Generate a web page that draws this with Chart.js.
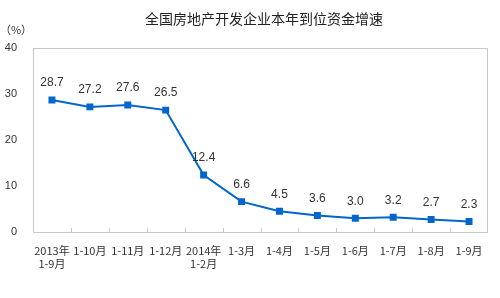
<!DOCTYPE html>
<html>
<head>
<meta charset="utf-8">
<script src="https://cdn.jsdelivr.net/npm/chart.js@4"></script>
<style>
  html, body { margin: 0; padding: 0; background: #fff; }
  #wrap { width: 500px; height: 298px; position: relative; }
</style>
</head>
<body>
<div id="wrap"><canvas id="chart" width="500" height="298"></canvas></div>
<script>
// 全国房地产开发企业本年到位资金增速
const chartTitle = '全国房地产开发企业本年到位资金增速';
const unitLabel = '（%）';
const categories = [
    ['2013年', '1-9月'], '1-10月', '1-11月', '1-12月', ['2014年', '1-2月'],
    '1-3月', '1-4月', '1-5月', '1-6月', '1-7月', '1-8月', '1-9月'
];
const growthRates = [28.7, 27.2, 27.6, 26.5, 12.4, 6.6, 4.5, 3.6, 3.0, 3.2, 2.7, 2.3];
const yTicks = [0, 10, 20, 30, 40];

const lineColor = 'rgb(0, 102, 204)';
const textColor = '#333';

// 标题、单位、边框、刻度线和数据标签
const decorPlugin = {
    id: 'decor',
    afterDraw(chart) {
        const ctx = chart.ctx;
        const area = chart.chartArea;
        const xs = chart.scales.x;
        ctx.save();

        // 标题
        ctx.fillStyle = '#222';
        ctx.font = '14px "Noto Sans CJK SC"';
        ctx.textAlign = 'center';
        ctx.textBaseline = 'middle';
        ctx.fillText(chartTitle, 264, 19);

        // 单位
        ctx.font = '11px "Noto Sans CJK SC"';
        ctx.fillStyle = textColor;
        ctx.fillText(unitLabel, 16, 30);

        // 边框
        ctx.strokeStyle = '#c8c8c8';
        ctx.lineWidth = 1;
        ctx.strokeRect(Math.round(area.left) + 0.5, Math.round(area.top) + 0.5,
            Math.round(area.right - area.left) - 1, Math.round(area.bottom - area.top));

        // x轴刻度线（分类之间）
        const step = (xs.getPixelForValue(1) - xs.getPixelForValue(0));
        ctx.beginPath();
        for (let i = 1; i < categories.length; i++) {
            const x = Math.round(xs.getPixelForValue(i) - step / 2) + 0.5;
            ctx.moveTo(x, area.bottom);
            ctx.lineTo(x, area.bottom - 4);
        }
        ctx.stroke();

        // 数据标签
        const meta = chart.getDatasetMeta(0);
        ctx.font = '12px "Liberation Sans", Arial';
        ctx.fillStyle = textColor;
        meta.data.forEach((pt, i) => {
            ctx.fillText(growthRates[i].toFixed(1), pt.x, pt.y - 17);
        });
        ctx.restore();
    }
};

new Chart(document.getElementById('chart'), {
    type: 'line',
    data: {
        labels: categories,
        datasets: [{
            data: growthRates,
            borderColor: lineColor,
            backgroundColor: lineColor,
            borderWidth: 2,
            pointStyle: 'rect',
            pointRadius: 3.5,
            tension: 0
        }]
    },
    options: {
        responsive: false,
        animation: false,
        layout: { padding: { top: 48, right: 12, left: 0, bottom: 0 } },
        plugins: {
            legend: { display: false },
            tooltip: { enabled: false },
            title: { display: false }
        },
        scales: {
            x: {
                offset: true,
                grid: { display: false },
                border: { display: false },
                ticks: {
                    color: textColor,
                    font: { family: '"Noto Sans CJK SC"', size: 11 },
                    maxRotation: 0,
                    autoSkip: false,
                    padding: 4
                },
                afterFit: s => { s.height = 66; }
            },
            y: {
                min: 0,
                max: 40,
                afterBuildTicks: s => { s.ticks = yTicks.map(v => ({ value: v })); },
                grid: { display: false },
                border: { display: false },
                ticks: {
                    color: textColor,
                    font: { family: '"Liberation Sans", Arial', size: 11 },
                    padding: 8
                },
                afterFit: s => { s.width = 33; }
            }
        }
    },
    plugins: [decorPlugin]
});
</script>
</body>
</html>
